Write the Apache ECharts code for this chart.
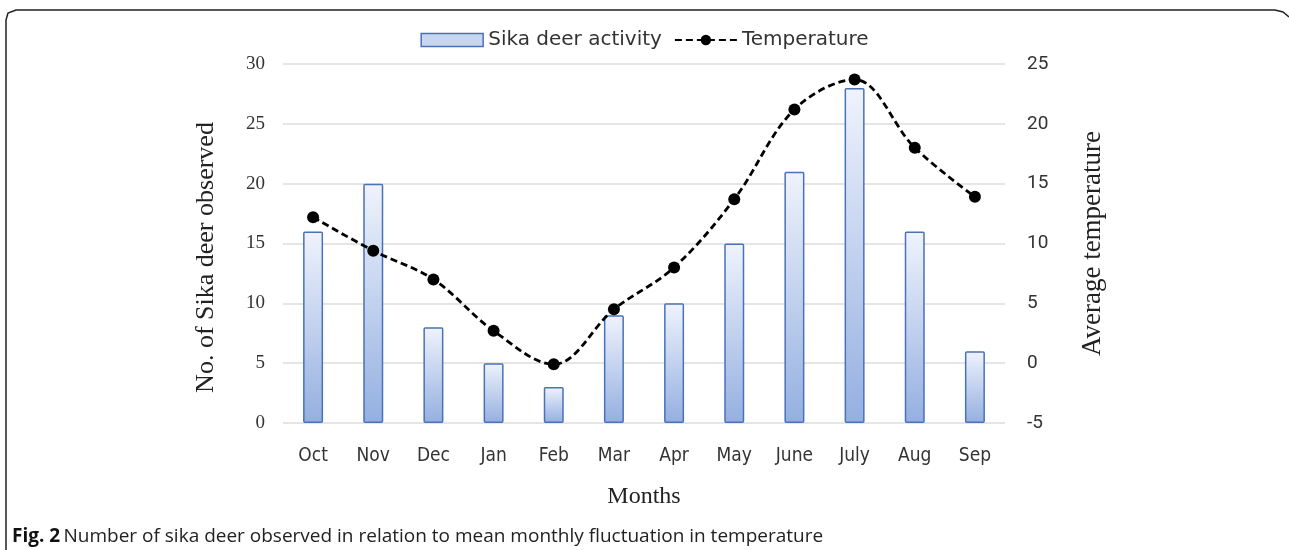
<!DOCTYPE html>
<html>
<head>
<meta charset="utf-8">
<script src="https://cdn.jsdelivr.net/npm/echarts@6/dist/echarts.min.js"></script>
<style>
  html, body { margin: 0; padding: 0; background: #fff; }
  #main { width: 1289px; height: 550px; }
</style>
</head>
<body>
<div id="main"></div>
<script>
// months along the x axis
var months = ['Oct', 'Nov', 'Dec', 'Jan', 'Feb', 'Mar', 'Apr', 'May', 'June', 'July', 'Aug', 'Sep']
// number of deer seen per month
var deerCount = [16, 20, 8, 5, 3, 9, 10, 15, 21, 28, 16, 6]
// mean monthly temperature
var temperature = [12.2, 9.4, 7.0, 2.7, -0.1, 4.5, 8.0, 13.7, 21.2, 23.7, 18.0, 13.9]

var chart = echarts.init(document.getElementById('main'))
chart.setOption({
  animation: false,
  grid: {
    left: 283,
    right: 284,
    top: 64,
    bottom: 127
  },
  legend: {
    top: 25,
    left: 'center',
    itemGap: 12,
    textStyle: { fontFamily: 'DejaVu Sans', fontSize: 20, color: '#333' },
    data: [
      { name: 'Sika deer activity', icon: 'rect', itemStyle: { color: '#c9d6f0', borderColor: '#4a72b8', borderWidth: 1.5 } },
      { name: 'Temperature' }
    ],
    itemWidth: 62,
    itemHeight: 13
  },
  xAxis: {
    type: 'category',
    data: months,
    name: 'Months',
    nameLocation: 'middle',
    nameGap: 62,
    nameTextStyle: { fontFamily: 'Liberation Serif', fontSize: 24, color: '#222' },
    axisLine: { show: false },
    axisTick: { show: false },
    axisLabel: { fontFamily: 'DejaVu Sans Condensed, Open Sans', fontSize: 19, color: '#333', margin: 24 }
  },
  yAxis: [
    {
      type: 'value',
      min: 0,
      max: 30,
      interval: 5,
      name: 'No. of Sika deer observed',
      nameLocation: 'middle',
      nameGap: 64,
      nameTextStyle: { fontFamily: 'Liberation Serif', fontSize: 26, color: '#222', padding: [0, 28, 0, 0] },
      axisLabel: { fontFamily: 'Liberation Serif', fontSize: 19, color: '#333', margin: 18 },
      splitLine: { lineStyle: { color: '#dcdcdc', width: 1.5 } }
    },
    {
      type: 'value',
      min: -5,
      max: 25,
      interval: 5,
      name: 'Average temperature',
      nameLocation: 'middle',
      nameGap: 74,
      nameRotate: 90,
      nameTextStyle: { fontFamily: 'Liberation Serif', fontSize: 27, color: '#222' },
      axisLabel: { fontFamily: 'Roboto', fontSize: 19, color: '#333', margin: 22 },
      splitLine: { show: false }
    }
  ],
  series: [
    {
      name: 'Sika deer activity',
      type: 'bar',
      yAxisIndex: 0,
      barWidth: 20,
      data: deerCount,
      itemStyle: {
        color: {
          type: 'linear', x: 0, y: 0, x2: 0, y2: 1,
          colorStops: [
            { offset: 0, color: '#eff3fc' },
            { offset: 1, color: '#94afe0' }
          ]
        },
        borderColor: '#4a72b8',
        borderWidth: 1.5,
        borderRadius: 1
      }
    },
    {
      name: 'Temperature',
      type: 'line',
      yAxisIndex: 1,
      data: temperature,
      smooth: 0.35,
      symbol: 'circle',
      symbolSize: 12,
      itemStyle: { color: '#000' },
      lineStyle: { color: '#000', width: 2.8, type: [7, 4] },
      z: 3
    }
  ],
  graphic: [
    {
      type: 'polyline',
      shape: { points: [[6, 552], [6, 20], [8, 13], [16, 10], [1275, 10], [1283, 12], [1289, 17]] },
      style: { fill: null, stroke: '#222', lineWidth: 1.5 }
    },
    {
      type: 'text',
      left: 12,
      top: 527,
      style: {
        rich: {
          b: { fontFamily: 'Open Sans', fontWeight: 'bold', fontSize: 19, fill: '#111' },
          n: { fontFamily: 'Open Sans', fontSize: 19, fill: '#222' }
        },
        text: '{b|Fig. 2} {n|Number of sika deer observed in relation to mean monthly fluctuation in temperature}'
      }
    }
  ]
})
</script>
</body>
</html>
